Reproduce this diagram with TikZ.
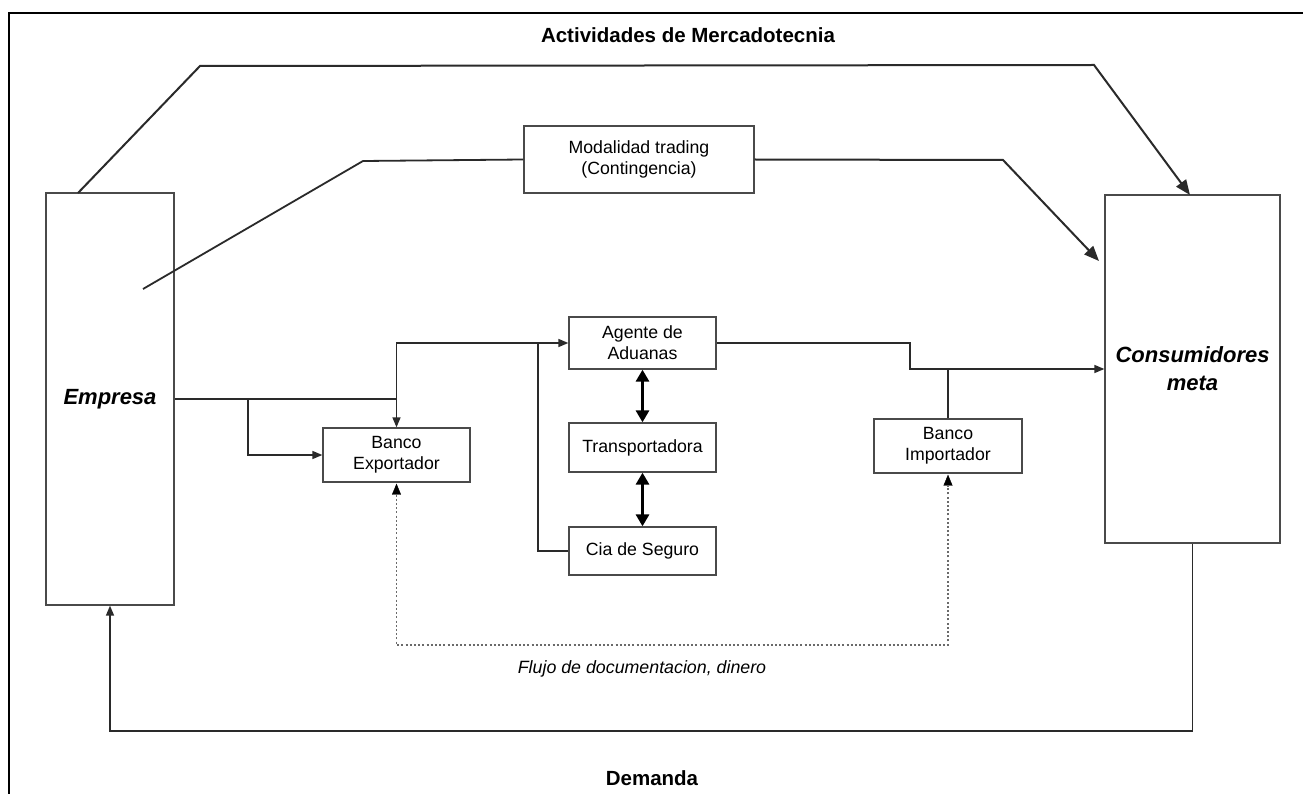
\documentclass[tikz,border=0pt]{standalone}
\usepackage{fontspec}
\setmainfont{Liberation Sans}
\usetikzlibrary{arrows.meta}
\definecolor{boxline}{HTML}{4A4A4A}
\definecolor{wire}{HTML}{2A2A2A}
\definecolor{dotline}{HTML}{6A6A6A}
\begin{document}
\begin{tikzpicture}[x=1pt,y=-1pt,
  box/.style={draw=boxline,line width=1.3pt,inner sep=0pt,align=center,
    font=\fontsize{17.7}{21}\selectfont},
  bigbox/.style={box,font=\fontsize{22}{28}\selectfont\bfseries\itshape},
  wirel/.style={draw=wire,line width=1.4pt},
  arr/.style={wirel,-{Triangle[length=10pt,width=8pt]}},
  bigarr/.style={draw=wire,line width=2pt,-{Triangle[length=15pt,width=12pt]}},
  dblarr/.style={draw=black,line width=3pt,{Triangle[length=12pt,width=13pt]}-{Triangle[length=12pt,width=13pt]}},
  dottip/.tip={Triangle[length=11pt,width=9pt,color=black,line width=0.4pt,sep=1pt]},
  docflow/.style={draw=dotline,line width=1.3pt,dash pattern=on 2pt off 2.2pt,dottip-dottip},
  heading/.style={font=\fontsize{20.5}{24}\selectfont\bfseries},
  note/.style={font=\fontsize{17.8}{21}\selectfont\itshape}]
\useasboundingbox (0,0) rectangle (1303,794);
\fill[white] (0,0) rectangle (1303,794);

% outer frame (top and left edges)
\draw[line width=2pt,black] (9,794) -- (9,13) -- (1303,13);

% headings
\node[heading] (titulo) at (688,35) {Actividades de Mercadotecnia};
\node[heading] (demanda) at (652,778) {Demanda};
\node[note] (flujo) at (642,669) {Flujo de documentacion, dinero};

% main blocks
\node[bigbox,minimum width=128pt,minimum height=412pt] (emp) at (110,399) {Empresa};
\node[bigbox,minimum width=175pt,minimum height=348pt,text depth=0pt] (con) at (1192.5,369) {Consumidores\\meta};
\node[box,minimum width=230pt,minimum height=67pt] (mod) at (639,159.5) {Modalidad trading\\(Contingencia)};
\node[box,minimum width=147pt,minimum height=52pt] (agt) at (642.5,343) {Agente de\\Aduanas};
\node[box,minimum width=147pt,minimum height=49pt] (tra) at (642.5,447.5) {Transportadora};
\node[box,minimum width=147pt,minimum height=48pt] (cia) at (642.5,551) {Cia de Seguro};
\node[box,minimum width=147pt,minimum height=54pt] (bex) at (396.5,455) {Banco\\Exportador};
\node[box,minimum width=148pt,minimum height=54pt] (bim) at (948,446) {Banco\\Importador};

% waypoints
\coordinate (u0) at (78,193);
\coordinate (u1) at (200,66);
\coordinate (u2) at (1094,65);
\coordinate (u3) at (1190,195);
\coordinate (m0) at (143,289);
\coordinate (m1) at (363,161);
\coordinate (m2) at (1003,160);
\coordinate (m3) at (1099,261);
\coordinate (j1) at (396.5,399);
\coordinate (j2) at (248,399);
\coordinate (j3) at (538,343);
\coordinate (k1) at (910,343);
\coordinate (k2) at (910,369);
\coordinate (d1) at (396.5,645);
\coordinate (r1) at (110,731);

% marketing activities route
\draw[bigarr] (u0) -- (u1) -- (u2) -- (u3);

% trading route
\draw[wirel,line width=1.8pt] (m0) -- (m1) -- (mod.west);
\draw[bigarr] (mod.east) -- (m2) -- (m3);

% company to exporting bank and customs agent
\draw[arr] (emp.east) -- (j1) -- (bex.north);
\draw[arr] (j2) |- (bex.west);
\draw[arr] (j1) |- (agt.west);
\draw[wirel] (cia.west) -| (j3);

% customs agent, carrier and insurer
\draw[dblarr] (agt.south) -- (tra.north);
\draw[dblarr] (tra.south) -- (cia.north);

% customs agent to target consumers
\draw[arr] (agt.east) -- (k1) -- (k2) -- (con.west);
\draw[wirel] (bim.north) -- (bim.north |- k2);

% documents and money
\draw[docflow] (bex.south) -- (d1) -| (bim.south);

% demand back to the company
\draw[arr] (con.south) |- (r1) -- (emp.south);
\end{tikzpicture}
\end{document}
